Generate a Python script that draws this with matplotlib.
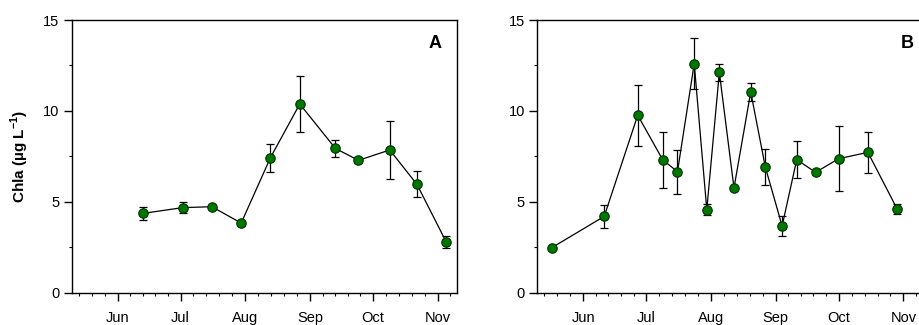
import matplotlib
matplotlib.use("Agg")
import matplotlib.pyplot as plt
import matplotlib.dates as mdates
import numpy as np
import datetime as dt

plt.rcParams['font.family'] = ['Liberation Sans', 'DejaVu Sans']
plt.rcParams['mathtext.fontset'] = 'custom'
plt.rcParams['mathtext.rm'] = 'Liberation Sans'
plt.rcParams['mathtext.bf'] = 'Liberation Sans:bold'

YEAR = 2015

# Panel A
a_dates = ["06-13", "07-02", "07-16", "07-30", "08-13", "08-27",
           "09-13", "09-24", "10-09", "10-22", "11-05"]
a_mean = [4.36, 4.68, 4.73, 3.83, 7.43, 10.38, 7.94, 7.28, 7.85, 5.96, 2.79]
a_err = [0.38, 0.30, 0.05, 0.14, 0.77, 1.53, 0.46, 0.14, 1.59, 0.72, 0.33]

# Panel B
b_dates = ["05-17", "06-11", "06-27", "07-09", "07-16", "07-24", "07-30",
           "08-05", "08-12", "08-20", "08-27", "09-04", "09-11", "09-20",
           "10-01", "10-15", "10-29"]
b_mean = [2.48, 4.20, 9.76, 7.30, 6.66, 12.60, 4.57, 12.12, 5.76, 11.04,
          6.90, 3.67, 7.32, 6.62, 7.37, 7.72, 4.60]
b_err = [0.0, 0.62, 1.67, 1.56, 1.21, 1.39, 0.31, 0.47, 0.0, 0.50,
         1.00, 0.54, 1.00, 0.10, 1.80, 1.13, 0.28]

panel_labels = ["A", "B"]
month_ticks = ["06-01", "07-01", "08-01", "09-01", "10-01", "11-01"]
x_range = ["05-10", "11-10"]
y_ticks = [0, 5, 10, 15]
y_label = r'Chla (µg L$^{\mathbf{-1}}$)'


def todate(s):
    m, d = s.split("-")
    return dt.datetime(YEAR, int(m), int(d))


fig = plt.figure(figsize=(9.2, 3.25), dpi=100)
W, H = 920, 325
ax_w = 385 / W
ax_h = (292.7 - 20) / H
ax_b = 1 - 292.7 / H
axA = fig.add_axes([71.7 / W, ax_b, ax_w, ax_h])
axB = fig.add_axes([537.3 / W, ax_b, ax_w, ax_h])
label_pos = {axA: (0.945, 0.914), axB: (0.961, 0.914)}

green = '#007800'

# minor ticks: 4 within each month
minor = []
for mo in range(5, 12):
    start = dt.datetime(YEAR, mo, 1)
    end = dt.datetime(YEAR, mo + 1, 1)
    L = (end - start).days
    for k in range(1, 5):
        minor.append(start + dt.timedelta(days=L * k / 5))

for ax, dates, mean, err, lab in [(axA, a_dates, a_mean, a_err, panel_labels[0]),
                                  (axB, b_dates, b_mean, b_err, panel_labels[1])]:
    x = [todate(s) for s in dates]
    ax.errorbar(x, mean, yerr=err, fmt='none', ecolor='black', elinewidth=0.9,
                capsize=3, capthick=0.9, zorder=2)
    ax.plot(x, mean, '-', color='black', lw=0.9, zorder=3)
    ax.plot(x, mean, 'o', ms=6.8, mfc=green, mec='#003000', mew=0.8, zorder=4)
    ax.set_yticks(y_ticks)
    ax.set_yticks([2.5, 7.5, 12.5], minor=True)
    ax.set_xticks([todate(s) for s in month_ticks])
    ax.set_xticks(minor, minor=True)
    ax.xaxis.set_major_formatter(mdates.DateFormatter('%b'))
    ax.set_xlim(todate(x_range[0]), todate(x_range[1]))
    ax.set_ylim(0, 15)
    ax.tick_params(axis='both', which='major', direction='out', length=5.5,
                   width=1.0, labelsize=10.5, colors='black')
    ax.tick_params(axis='x', which='major', pad=8)
    ax.tick_params(axis='y', which='major', pad=3.5)
    ax.tick_params(axis='both', which='minor', direction='out', length=2,
                   width=0.8)
    for sp in ax.spines.values():
        sp.set_linewidth(1.0)
        sp.set_color('black')
    lx, ly = label_pos[ax]
    ax.text(lx, ly, lab, transform=ax.transAxes, fontsize=13,
            fontweight='bold', ha='center', va='center')

fig.text(20 / W, 1 - 156.5 / H, y_label, rotation=90, ha='center',
         va='center', fontsize=11, fontweight='bold')

fig.savefig('out.png', dpi=100)
